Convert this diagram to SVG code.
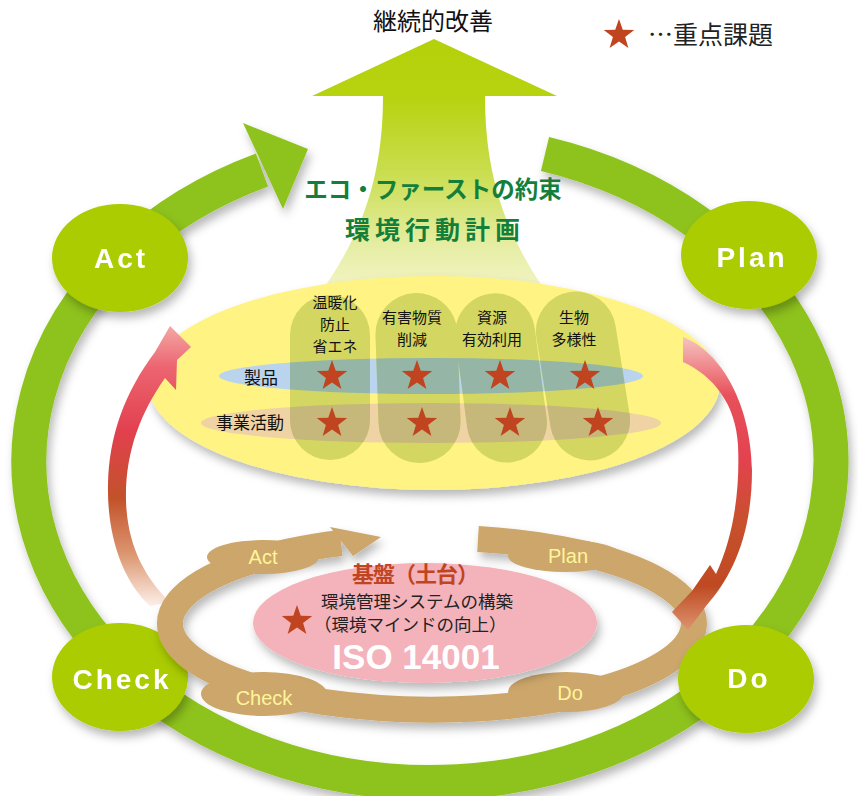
<svg xmlns="http://www.w3.org/2000/svg" xmlns:xlink="http://www.w3.org/1999/xlink" width="858" height="796" viewBox="0 0 858 796">
<style>
.jp{font-family:"Noto Sans CJK JP","Noto Sans",sans-serif}
.en{font-family:"Liberation Sans",Arial,sans-serif}
.node{fill:#aacc06}
.nodetxt{font-family:"Liberation Sans",Arial,sans-serif;font-weight:bold;font-size:28px;fill:#fff;text-anchor:middle;letter-spacing:3px}
.tan{fill:#cca66a}
.tantxt{font-family:"Liberation Sans",Arial,sans-serif;font-size:20px;fill:#fff59a;text-anchor:middle}
.col{font-family:"Noto Sans CJK JP",sans-serif;font-size:15px;fill:#111;text-anchor:middle}
.star{fill:#c0441f}
</style>
<defs>
<filter id="sh" x="-20%" y="-20%" width="140%" height="150%">
<feDropShadow dx="3" dy="6" stdDeviation="5" flood-color="#000" flood-opacity="0.28"/>
</filter>
<path id="star" d="M0,-16 L3.76,-5.18 L15.22,-4.94 L6.09,1.98 L9.4,12.94 L0,6.4 L-9.4,12.94 L-6.09,1.98 L-15.22,-4.94 L-3.76,-5.18 Z"/>
<linearGradient id="upg" gradientUnits="userSpaceOnUse" x1="0" y1="39" x2="0" y2="300">
<stop offset="0" stop-color="#b5d10b"/>
<stop offset="0.22" stop-color="#b7d20f"/>
<stop offset="0.5" stop-color="#c9dd4c"/>
<stop offset="0.8" stop-color="#e6eea6"/>
<stop offset="1" stop-color="#f6f6cc"/>
</linearGradient>
<linearGradient id="lg" gradientUnits="userSpaceOnUse" x1="0" y1="604" x2="0" y2="326">
<stop offset="0" stop-color="#fbece4"/>
<stop offset="0.18" stop-color="#dc9670"/>
<stop offset="0.38" stop-color="#c2522a"/>
<stop offset="0.62" stop-color="#e2404e"/>
<stop offset="0.85" stop-color="#ec6470"/>
<stop offset="1" stop-color="#f3a8a4"/>
</linearGradient>
<linearGradient id="rg" gradientUnits="userSpaceOnUse" x1="0" y1="337" x2="0" y2="630">
<stop offset="0" stop-color="#f6c4c0"/>
<stop offset="0.2" stop-color="#e8505a"/>
<stop offset="0.42" stop-color="#e3424f"/>
<stop offset="0.62" stop-color="#c8502e"/>
<stop offset="0.85" stop-color="#bf4a22"/>
<stop offset="1" stop-color="#dc9470"/>
</linearGradient>
<clipPath id="colclip">
<rect x="290" y="295" width="80" height="165" rx="40"/>
<rect x="377" y="293" width="82" height="170" rx="41" transform="rotate(-2 418 378)"/>
<rect x="461" y="293" width="80" height="170" rx="40" transform="rotate(-7.5 501 378)"/>
<rect x="543" y="291" width="80" height="170" rx="40" transform="rotate(-9 583 376)"/>
</clipPath>
</defs>

<rect width="858" height="796" fill="#fff"/>

<!-- title and legend -->
<text x="433" y="30" class="jp" font-size="24" fill="#111" text-anchor="middle">継続的改善</text>
<g id="legend">
<use xlink:href="#star" href="#star" x="619" y="35" class="star"/>
<text x="648" y="44" class="jp" font-size="25" fill="#222">…重点課題</text>
</g>

<!-- connectors: PDCA ring -->
<g id="connectors">
<g id="pdca-ring" filter="url(#sh)">
<path d="M 545,154 A 401 321 0 1 1 262,170" fill="none" stroke="#8ec21f" stroke-width="35"/>
<polygon points="243,123 308,149 283,209" fill="#8ec21f"/>
</g>
</g>

<!-- nodes -->
<g id="node-act" filter="url(#sh)"><ellipse cx="120" cy="258" rx="68" ry="54" class="node"/><text x="121" y="268" class="nodetxt">Act</text></g>
<g id="node-plan" filter="url(#sh)"><ellipse cx="749" cy="255" rx="68" ry="54" class="node"/><text x="752" y="267" class="nodetxt">Plan</text></g>
<g id="node-check" filter="url(#sh)"><ellipse cx="120" cy="677" rx="68" ry="54" class="node"/><text x="122" y="689" class="nodetxt">Check</text></g>

<!-- big upward arrow -->
<g id="up-arrow">
<path d="M434,39 L557,96 L485,96 C485,180 508,240 552,300 L315,300 C360,240 383,180 383,96 L312,96 Z" fill="url(#upg)"/>
</g>

<!-- yellow plan area -->
<g id="plan-area">
<ellipse cx="434" cy="383" rx="286" ry="107" fill="#fef383" filter="url(#sh)"/>
<ellipse cx="431" cy="376" rx="212" ry="18" fill="#b9d4ec"/>
<ellipse cx="431" cy="423" rx="230" ry="20" fill="#efd3a4"/>
<rect x="200" y="280" width="480" height="200" fill="#d3d661" clip-path="url(#colclip)"/>
<ellipse cx="431" cy="376" rx="212" ry="18" fill="#95b6a6" clip-path="url(#colclip)"/>
<ellipse cx="431" cy="423" rx="230" ry="20" fill="#c5b87a" clip-path="url(#colclip)"/>
</g>

<text x="433" y="198" class="jp" font-size="23.5" font-weight="bold" fill="#137f3b" text-anchor="middle">エコ・ファーストの約束</text>
<text x="435" y="239" class="jp" font-size="25" font-weight="bold" fill="#137f3b" text-anchor="middle" letter-spacing="5">環境行動計画</text>

<g id="col-labels">
<text class="col" x="335" y="308">温暖化</text>
<text class="col" x="335" y="330">防止</text>
<text class="col" x="335" y="352">省エネ</text>
<text class="col" x="412" y="323">有害物質</text>
<text class="col" x="412" y="345">削減</text>
<text class="col" x="492" y="323">資源</text>
<text class="col" x="492" y="345">有効利用</text>
<text class="col" x="574" y="323">生物</text>
<text class="col" x="574" y="345">多様性</text>
<text class="jp" x="261" y="384" font-size="17" fill="#111" text-anchor="middle">製品</text>
<text class="jp" x="250" y="429" font-size="17" fill="#111" text-anchor="middle">事業活動</text>
</g>

<g id="stars" class="star">
<use xlink:href="#star" href="#star" x="332" y="376"/>
<use xlink:href="#star" href="#star" x="417" y="376"/>
<use xlink:href="#star" href="#star" x="500" y="376"/>
<use xlink:href="#star" href="#star" x="585" y="376"/>
<use xlink:href="#star" href="#star" x="332" y="423"/>
<use xlink:href="#star" href="#star" x="422" y="423"/>
<use xlink:href="#star" href="#star" x="510" y="423"/>
<use xlink:href="#star" href="#star" x="598" y="423"/>
</g>

<!-- left red curved arrow (under tan ring) -->
<g id="red-arrow-left">
<path d="M170,326 L191,347 L177,360 L176,390 L165,378 C141,412 125,452 126,500 C127,545 145,578 170,602 L150,606 C122,580 107,535 108,485 C109,435 125,392 155,352 Z" fill="url(#lg)"/>
</g>

<!-- tan inner PDCA ring -->
<g id="inner-ring" filter="url(#sh)">
<path d="M 478,539 A 262 86 0 1 1 341,543" fill="none" stroke="#cca66a" stroke-width="26"/>
<polygon points="330,527 381,537 353,556" class="tan"/>
</g>
<g id="tag-act"><ellipse cx="263" cy="557" rx="56" ry="17" class="tan"/><text x="263" y="564" class="tantxt">Act</text></g>
<g id="tag-plan"><ellipse cx="565" cy="556" rx="57" ry="16" class="tan"/><text x="568" y="563" class="tantxt">Plan</text></g>
<g id="tag-check"><ellipse cx="264" cy="694" rx="63" ry="22" class="tan"/><text x="264" y="705" class="tantxt">Check</text></g>
<g id="tag-do"><ellipse cx="566" cy="692" rx="58" ry="20" class="tan"/><text x="570" y="700" class="tantxt">Do</text></g>

<!-- base -->
<g id="base">
<ellipse cx="425" cy="623" rx="172" ry="60" fill="#f4b2ba" filter="url(#sh)"/>
<text x="352" y="582" class="jp" font-size="22" font-weight="bold" fill="#c0441f" letter-spacing="-1">基盤（土台）</text>
<text x="321" y="608" class="jp" font-size="17.5" fill="#222">環境管理システムの構築</text>
<text x="314" y="631" class="jp" font-size="17.5" fill="#222">（環境マインドの向上）</text>
<use xlink:href="#star" href="#star" x="297" y="621" class="star"/>
<text x="416" y="669" class="en" font-size="35" font-weight="bold" fill="#fff" text-anchor="middle">ISO 14001</text>
</g>

<!-- right red curved arrow (over tan ring) -->
<g id="red-arrow-right">
<path d="M683,337 C722,352 751,405 752,470 C752,535 732,577 706,606 L688,630 L672,612 L692,591 L710,565 L716,574 C734,535 740,490 738,445 C736,405 714,376 683,362 Z" fill="url(#rg)"/>
</g>

<g id="node-do" filter="url(#sh)"><ellipse cx="746" cy="679" rx="68" ry="54" class="node"/><text x="749" y="688" class="nodetxt">Do</text></g>
</svg>
